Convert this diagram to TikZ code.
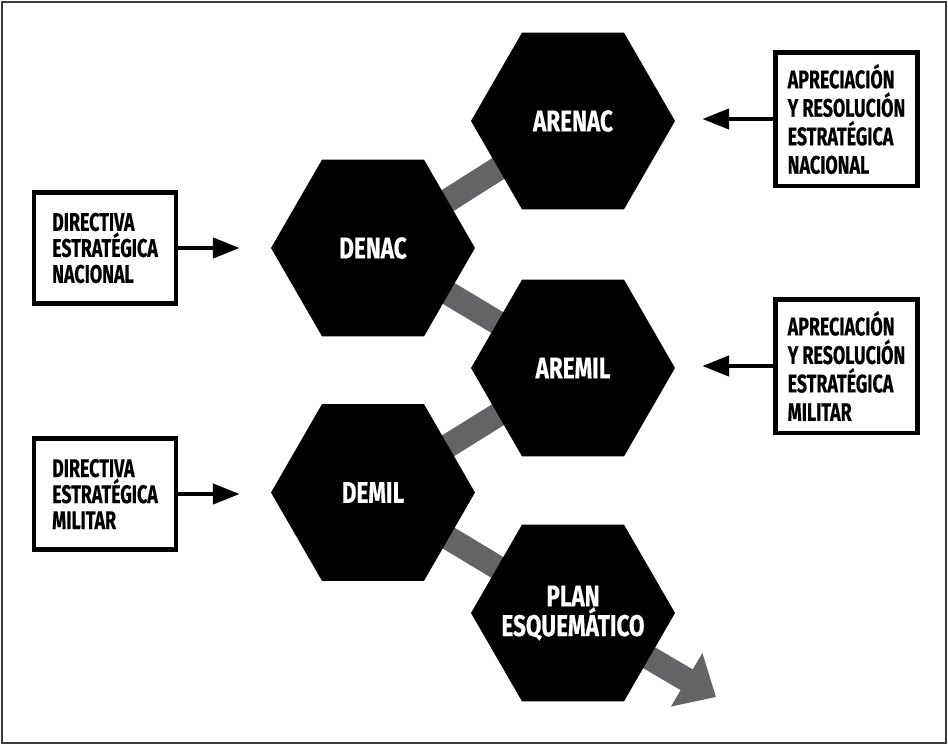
\documentclass[tikz,border=0pt]{standalone}
\usepackage{fontspec}
\usepackage{tikz}
\usetikzlibrary{shapes.geometric,arrows.meta,backgrounds}
\newfontfamily\condsans{Fira Sans}[FakeStretch=0.75,FakeBold=0.4]
\newfontfamily\narrowsans{Fira Sans}[FakeStretch=0.7,FakeBold=0.4]
\definecolor{linkgray}{RGB}{99,100,102}
\definecolor{framegray}{RGB}{60,60,60}
\tikzset{
  hexnode/.style={regular polygon, regular polygon sides=6, minimum size=204pt,
    fill=black, text=white, inner sep=0pt, align=center,
    font=\condsans\bfseries\fontsize{30}{28.5}\selectfont},
  sidebox/.style={draw, line width=4.5pt, minimum width=142pt, minimum height=111pt,
    inner sep=0pt, align=left, font=\narrowsans\bfseries\fontsize{25.5}{26}\selectfont},
  rightbox/.style={sidebox, minimum height=133.5pt,
    font=\narrowsans\bfseries\fontsize{25.5}{28.5}\selectfont},
  feed/.style={line width=4.5pt, -{Triangle[length=27pt,width=20pt]}},
  link/.style={line width=24pt, linkgray},
}
\begin{document}
\begin{tikzpicture}[x=1pt,y=-1pt]
    \useasboundingbox (0,0) rectangle (948,745);
    \draw[framegray, line width=1.5pt] (2,2) rectangle (946,743);

    \node[hexnode] (arenac) at (573,121) {ARENAC};
    \node[hexnode] (denac)  at (373,248) {DENAC};
    \node[hexnode] (aremil) at (573,368) {AREMIL};
    \node[hexnode] (demil)  at (373,492.5) {DEMIL};
    \node[hexnode] (plan)   at (573,613) {PLAN\\\makebox[0pt]{ESQUEMÁTICO}};
    \coordinate (planout) at (716,697);

    \node[sidebox]  (dirnac) at (105,248) {DIRECTIVA\\ESTRATÉGICA\\NACIONAL};
    \node[sidebox]  (dirmil) at (105,494) {DIRECTIVA\\ESTRATÉGICA\\MILITAR};
    \node[rightbox] (aprnac) at (846.5,119) {APRECIACIÓN\\Y RESOLUCIÓN\\ESTRATÉGICA\\NACIONAL};
    \node[rightbox] (aprmil) at (846.5,366) {APRECIACIÓN\\Y RESOLUCIÓN\\ESTRATÉGICA\\MILITAR};

    \begin{pgfonlayer}{background}
      \draw[link] (denac.center) -- (arenac.center);
      \draw[link] (denac.center) -- (aremil.center);
      \draw[link] (aremil.center) -- (demil.center);
      \draw[link] (demil.center) -- (plan.center);
      \draw[link, -{Triangle[length=34pt,width=60pt]}] (plan.center) -- (planout);
    \end{pgfonlayer}

    \draw[feed, shorten >=31pt] (dirnac.east) -- (dirnac.east -| denac.west);
    \draw[feed, shorten >=31pt] (dirmil.east) -- (dirmil.east -| demil.west);
    \draw[feed, shorten >=27pt] (aprnac.west) -- (aprnac.west -| arenac.east);
    \draw[feed, shorten >=27pt] (aprmil.west) -- (aprmil.west -| aremil.east);
\end{tikzpicture}
\end{document}
